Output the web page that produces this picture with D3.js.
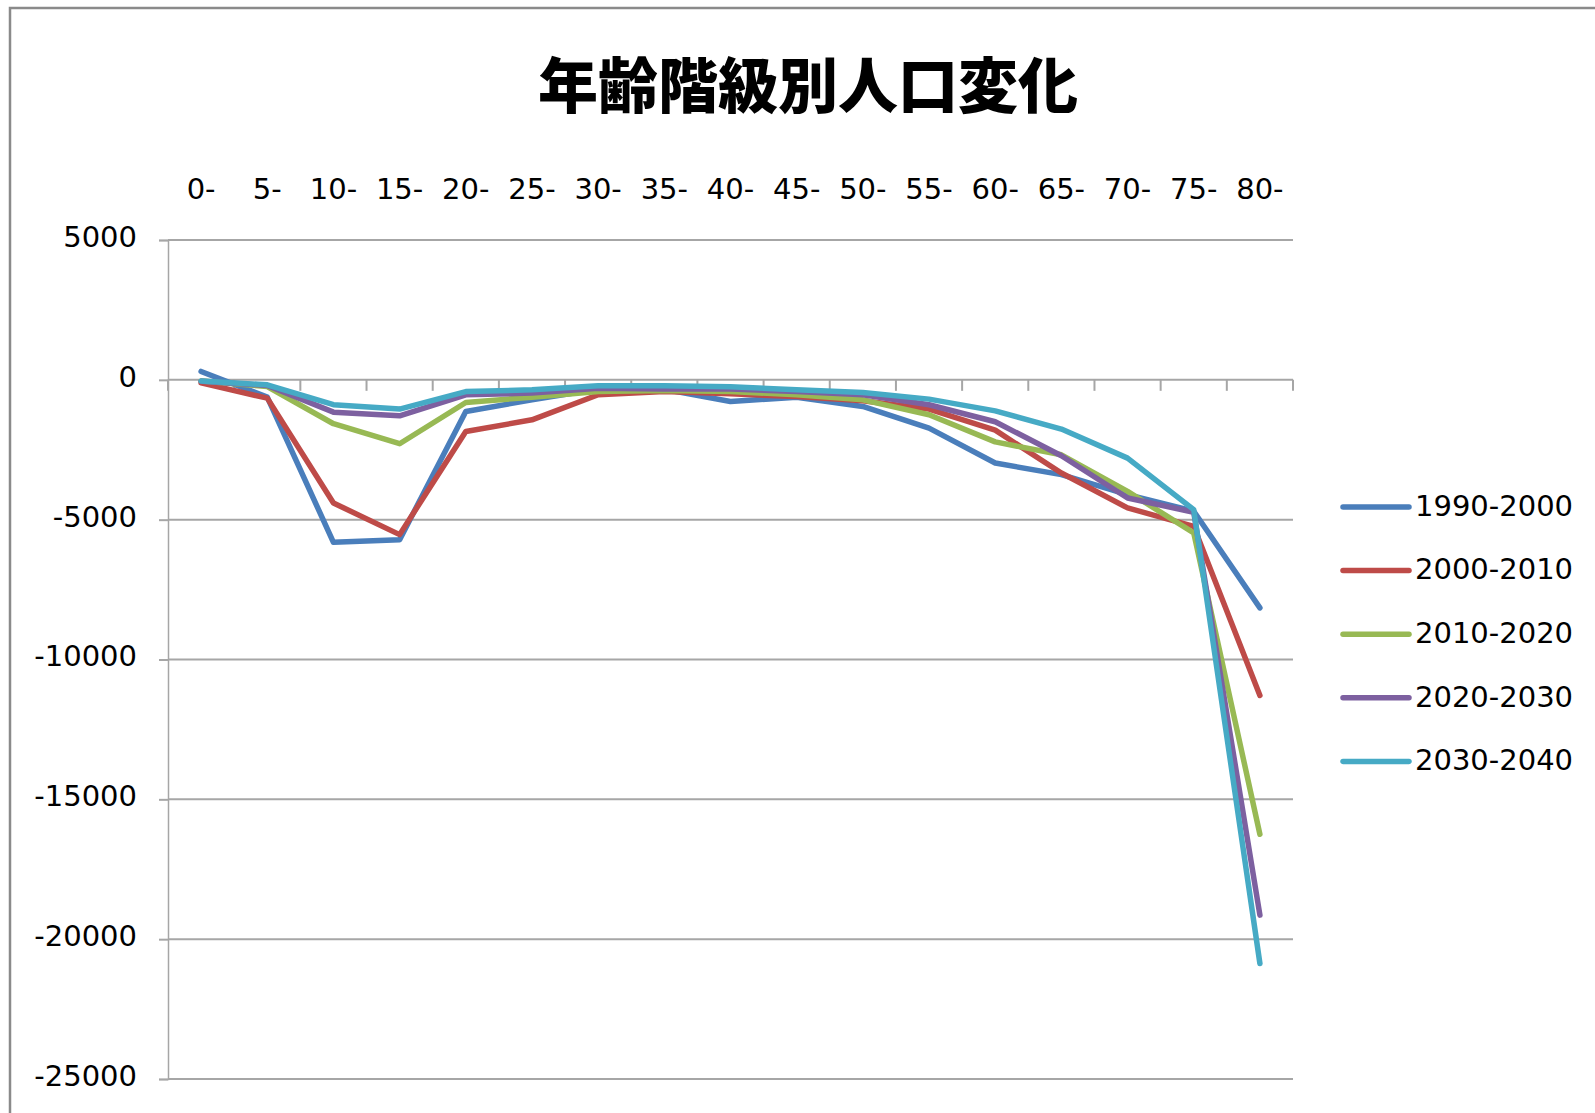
<!DOCTYPE html>
<html>
<head>
<meta charset="utf-8">
<script src="https://cdn.jsdelivr.net/npm/d3@7"></script>
<style>
  html, body { margin: 0; padding: 0; background: #ffffff; }
  svg { display: block; }
  text { font-family: "DejaVu Sans", Verdana, sans-serif; fill: #000; }
</style>
</head>
<body>
<svg id="chart" width="1595" height="1113"></svg>
<script>
// Age groups (5-year bands)
const categories = ["0-", "5-", "10-", "15-", "20-", "25-", "30-", "35-", "40-",
  "45-", "50-", "55-", "60-", "65-", "70-", "75-", "80-"];

// Population change by age group for each decade
const s1990 = [300, -620, -5810, -5715, -1130, -715, -330, -340, -775, -620, -950, -1725, -2975, -3390, -4105, -4700, -8155];
const s2000 = [-110, -655, -4405, -5535, -1845, -1430, -535, -415, -500, -600, -750, -1045, -1800, -3330, -4580, -5240, -11285];
const s2010 = [-40, -240, -1570, -2285, -810, -620, -415, -380, -415, -535, -715, -1250, -2220, -2680, -3990, -5475, -16250];
const s2020 = [-50, -200, -1155, -1285, -535, -475, -300, -330, -330, -415, -535, -890, -1500, -2715, -4225, -4735, -19140];
const s2030 = [-40, -180, -890, -1045, -420, -357, -215, -215, -250, -355, -450, -690, -1110, -1760, -2800, -4640, -20870];

const seriesNames = ["1990-2000", "2000-2010", "2010-2020", "2020-2030", "2030-2040"];
const seriesColors = ["#4a7ebb", "#be4b48", "#98b954", "#7d60a0", "#46aac5"];
const yTicks = [5000, 0, -5000, -10000, -15000, -20000, -25000];
const chartTitle = "年齢階級別人口変化";

const series = [s1990, s2000, s2010, s2020, s2030].map((vals, i) => ({
  name: seriesNames[i], color: seriesColors[i], values: vals
}));

const svg = d3.select("#chart");

// Outer chart frame
svg.append("rect")
  .attr("x", 10).attr("y", 8)
  .attr("width", 1620).attr("height", 1140)
  .attr("fill", "none").attr("stroke", "#8a8a8a").attr("stroke-width", 2.5);

// Title
svg.append("text")
  .attr("x", 808).attr("y", 108)
  .attr("text-anchor", "middle")
  .style("font-family", '"Noto Sans CJK JP", "Noto Sans CJK SC", sans-serif')
  .style("font-weight", 900)
  .style("font-size", "60px")
  .text(chartTitle);

const plotLeft = 168, plotRight = 1293;
const x = d3.scaleBand().domain(categories).range([plotLeft, plotRight]).padding(0);
const y = d3.scaleLinear().domain([-25000, 5000]).range([1079, 240]);
const cx = d => x(d) + x.bandwidth() / 2;

const gridColor = "#a6a6a6";

// Horizontal gridlines
svg.append("g").selectAll("line")
  .data(yTicks)
  .join("line")
  .attr("x1", plotLeft).attr("x2", plotRight)
  .attr("y1", d => y(d)).attr("y2", d => y(d))
  .attr("stroke", gridColor).attr("stroke-width", 2);

// Y axis with labels
const yAxis = svg.append("g")
  .attr("transform", `translate(${plotLeft},0)`)
  .call(d3.axisLeft(y).tickValues(yTicks).tickSize(9).tickPadding(22)
    .tickFormat(d => String(d)));
yAxis.select(".domain").attr("stroke", gridColor).attr("stroke-width", 1.5);
yAxis.selectAll(".tick line").attr("stroke", gridColor).attr("stroke-width", 2);
yAxis.selectAll(".tick text")
  .style("font-size", "29px")
  .attr("dy", "0.22em");

// Category tick marks hanging below the zero line
const boundaries = d3.range(categories.length + 1).map(i => plotLeft + i * x.step());
svg.append("g").selectAll("line")
  .data(boundaries)
  .join("line")
  .attr("x1", d => d).attr("x2", d => d)
  .attr("y1", y(0)).attr("y2", y(0) + 11)
  .attr("stroke", gridColor).attr("stroke-width", 2);

// Category labels along the top
svg.append("g").selectAll("text")
  .data(categories)
  .join("text")
  .attr("x", d => cx(d))
  .attr("y", 199)
  .attr("text-anchor", "middle")
  .style("font-size", "29px")
  .text(d => d);

// Series lines
const line = d3.line()
  .x((d, i) => cx(categories[i]))
  .y(d => y(d));

svg.append("g").selectAll("path")
  .data(series)
  .join("path")
  .attr("d", d => line(d.values))
  .attr("fill", "none")
  .attr("stroke", d => d.color)
  .attr("stroke-width", 5.5)
  .attr("stroke-linejoin", "round")
  .attr("stroke-linecap", "round");

// Legend
const legend = svg.append("g").selectAll("g")
  .data(series)
  .join("g")
  .attr("transform", (d, i) => `translate(0,${507 + i * 63.6})`);
legend.append("line")
  .attr("x1", 1343).attr("x2", 1409)
  .attr("y1", 0).attr("y2", 0)
  .attr("stroke", d => d.color)
  .attr("stroke-width", 5.5)
  .attr("stroke-linecap", "round");
legend.append("text")
  .attr("x", 1415).attr("y", 0)
  .attr("dy", "0.3em")
  .style("font-size", "29px")
  .text(d => d.name);
</script>
</body>
</html>
